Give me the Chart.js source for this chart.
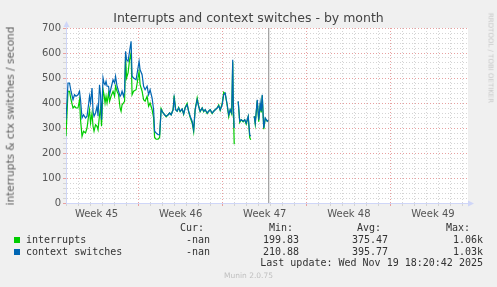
<!DOCTYPE html>
<html>
<head>
<meta charset="utf-8">
<script src="https://cdn.jsdelivr.net/npm/chart.js@4/dist/chart.umd.min.js"></script>
<style>
	body { margin: 0; background: #f0f0f0; }
	#wrap { position: relative; width: 497px; height: 287px; overflow: hidden; font-family: "DejaVu Sans", sans-serif; }
	#wrap canvas { position: absolute; left: 0; top: 0; }
	.txt { position: absolute; white-space: pre; line-height: 1; }
	.mono { font-family: "DejaVu Sans Mono", monospace; font-size: 10px; color: #333; }
	.r { text-align: right; }
	.sq { position: absolute; width: 6px; height: 6px; }
</style>
</head>
<body>
<div id="wrap">
	<canvas id="chart" width="497" height="287"></canvas>
	<div class="txt" id="title" style="left:0;width:497px;top:12px;text-align:center;font-size:12.5px;color:#444;">Interrupts and context switches - by month</div>
	<div class="txt" style="left:10px;top:116px;font-size:10.5px;color:#5a5a5a;transform:translate(-50%,-50%) rotate(-90deg);">interrupts &amp; ctx switches / second</div>
	<div class="txt" style="left:490px;top:58px;font-size:7px;color:#c8c8c8;transform:translate(-50%,-50%) rotate(90deg);">RRDTOOL / TOBI OETIKER</div>

	<div class="txt mono r" style="right:293px;top:223px;">Cur:</div>
	<div class="txt mono r" style="right:204px;top:223px;">Min:</div>
	<div class="txt mono r" style="right:116px;top:223px;">Avg:</div>
	<div class="txt mono r" style="right:27px;top:223px;">Max:</div>

	<div class="sq" style="left:14px;top:237px;background:#00cc00;"></div>
	<div class="txt mono" style="left:26px;top:235px;">interrupts</div>
	<div class="txt mono r" style="right:287px;top:235px;">-nan</div>
	<div class="txt mono r" style="right:198px;top:235px;">199.83</div>
	<div class="txt mono r" style="right:109px;top:235px;">375.47</div>
	<div class="txt mono r" style="right:14px;top:235px;">1.06k</div>

	<div class="sq" style="left:14px;top:249px;background:#0066b3;"></div>
	<div class="txt mono" style="left:26px;top:247px;">context switches</div>
	<div class="txt mono r" style="right:287px;top:247px;">-nan</div>
	<div class="txt mono r" style="right:198px;top:247px;">210.88</div>
	<div class="txt mono r" style="right:109px;top:247px;">395.77</div>
	<div class="txt mono r" style="right:14px;top:247px;">1.03k</div>

	<div class="txt mono r" style="right:14px;top:258px;">Last update: Wed Nov 19 18:20:42 2025</div>
	<div class="txt" style="left:0;width:497px;top:272px;text-align:center;font-size:7.5px;color:#c0c0c0;">Munin 2.0.75</div>
</div>
<script>
// time axis in hours from the left edge of the plot
const hours = [0, 4, 7, 10, 14, 17, 20, 24, 27, 29, 32, 35, 39, 42, 45, 47, 49, 52, 54, 56,
	59, 62, 64, 67, 69, 71, 74, 76, 78, 80, 82, 85, 87, 90, 94, 97, 99, 102, 105, 108,
	110, 112, 115, 117, 119, 121, 124, 127, 130, 132, 135, 140, 146, 148, 152, 155, 158, 162, 165, 168,
	172, 175, 177, 180, 184, 187, 190, 194, 197, 200, 204, 207, 210, 214, 216, 219, 222, 225, 228, 232,
	235, 238, 242, 245, 248, 252, 255, 258, 262, 265, 268, 272, 275, 278, 282, 285, 288, 292, 295, 298,
	302, 305, 308, 312, 315, 318, 322, 325, 328, 331, 333, 334, 336, 338, 344, 347, 350, 354, 357, 360,
	364, 367, 369, 372, 376, 378, 382, 385, 388, 390, 392, 395, 398, 402, 405];

const interrupts = [267, 447, 447, 413, 380, 387, 380, 380, 413, 333, 267, 287, 280, 300, 347, 373, 320, 360, 307, 287,
	313, 307, 293, 353, 380, 307, 453, 433, 400, 427, 400, 440, 407, 427, 447, 427, 467, 447, 433, 380,
	367, 393, 400, 407, 587, 500, 520, 573, 600, 433, 447, 453, 527, 473, 447, 413, 407, 427, 387, 400,
	373, 340, 262, 255, 255, 262, 378, 360, 353, 345, 353, 360, 353, 375, 430, 373, 367, 382, 365, 376,
	355, 382, 398, 365, 343, 320, 285, 375, 420, 387, 365, 380, 365, 373, 358, 367, 373, 358, 367, 373,
	380, 392, 371, 398, 443, 437, 390, 345, 373, 356, 565, 405, 235, null, 405, 322, 333, 325, 333, 315,
	345, 262, 253, null, 347, 315, 410, 325, 398, 362, 430, 295, 338, 327, 330];

const contextSwitches = [333, 480, 480, 447, 413, 433, 427, 433, 447, 413, 340, 353, 340, 347, 393, 427, 400, 460, 367, 347,
	360, 387, 347, 473, 433, 333, 500, 480, 473, 487, 467, 467, 433, 460, 493, 480, 507, 467, 447, 427,
	433, 447, 427, 447, 607, 573, 567, 607, 647, 507, 500, 493, 567, 533, 513, 467, 453, 467, 433, 453,
	420, 373, 287, 280, 273, 273, 373, 360, 353, 347, 353, 360, 353, 373, 420, 373, 367, 380, 367, 376,
	357, 380, 393, 367, 347, 327, 293, 373, 413, 387, 367, 380, 367, 373, 360, 367, 373, 360, 367, 373,
	380, 389, 373, 393, 433, 440, 393, 353, 373, 360, 573, 413, 300, null, 407, 327, 333, 327, 333, 320,
	347, 273, 267, null, 347, 320, 413, 333, 400, 367, 433, 300, 340, 327, 333];

const nowHour = 405;
const xMax = 803;
const firstDayLine = 1; // midnight gridlines, every 24 h
const weekStarts = [-23, 145, 313, 481, 649];
const weekLabels = ["Week 45", "Week 46", "Week 47", "Week 48", "Week 49"];

const kGridColor = "#d4d4d4";
const kMajorColor = "#e8a0a0";
const kAxisColor = "#cfd6f8";

function isWeekLine(v) {
	return weekStarts.includes(v);
}

const plotBackground = {
	id: "plotBackground",
	beforeDraw(chart) {
		const {ctx, chartArea: a} = chart;
		ctx.save();
		ctx.fillStyle = "#ffffff";
		ctx.fillRect(a.left, a.top, a.width, a.height);
		ctx.restore();
	}
};

const axisArrows = {
	id: "axisArrows",
	afterDraw(chart) {
		const {ctx, chartArea: a} = chart;
		const x0 = Math.round(a.left) + 0.5;
		const y0 = Math.round(a.bottom) + 0.5;
		ctx.save();
		ctx.strokeStyle = kAxisColor;
		ctx.fillStyle = kAxisColor;
		ctx.lineWidth = 1;
		ctx.beginPath();
		ctx.moveTo(x0, a.top);
		ctx.lineTo(x0, a.top - 4);
		ctx.moveTo(a.right, y0);
		ctx.lineTo(a.right + 3, y0);
		ctx.stroke();
		// up arrow
		ctx.beginPath();
		ctx.moveTo(x0, a.top - 7);
		ctx.lineTo(x0 - 3, a.top - 1);
		ctx.lineTo(x0 + 3, a.top - 1);
		ctx.closePath();
		ctx.fill();
		// right arrow
		ctx.beginPath();
		ctx.moveTo(a.right + 6, y0);
		ctx.lineTo(a.right, y0 - 3);
		ctx.lineTo(a.right, y0 + 3);
		ctx.closePath();
		ctx.fill();
		ctx.restore();
	}
};

function renderChart() {
	const context = document.getElementById("chart").getContext("2d");
	Chart.defaults.font.family = "'DejaVu Sans', sans-serif";
	Chart.defaults.font.size = 10;
	Chart.defaults.color = "#555555";

	const dayTicks = [];
	for (let v = firstDayLine; v < xMax; v += 24) {
		dayTicks.push(v);
	}
	const labelTicks = weekStarts.map((s) => s + 84);

	return new Chart(context, {
		type: "line",
		data: {
			datasets: [
				{
					label: "interrupts",
					data: hours.map((h, i) => ({x: h, y: interrupts[i]})),
					borderColor: "#00cc00",
					borderWidth: 1.2,
					order: 2 // drawn first, under the blue line
				},
				{
					label: "context switches",
					data: hours.map((h, i) => ({x: h, y: contextSwitches[i]})),
					borderColor: "#0066b3",
					borderWidth: 1.2,
					order: 1
				},
				{
					label: "now",
					data: [{x: nowHour, y: 0}, {x: nowHour, y: 700}],
					borderColor: "#8a8a8a",
					borderWidth: 1,
					order: 0
				}
			]
		},
		options: {
			responsive: false,
			animation: false,
			events: [],
			layout: {
				padding: {left: 36, right: 29, top: 28, bottom: 66}
			},
			elements: {
				point: {radius: 0},
				line: {tension: 0, fill: false}
			},
			plugins: {
				legend: {display: false},
				tooltip: {enabled: false}
			},
			scales: {
				x: {
					type: "linear",
					min: 0,
					max: xMax,
					weight: 0,
					afterBuildTicks: (scale) => {
						scale.ticks = dayTicks.map((v) => ({value: v}));
					},
					afterFit: (scale) => {
						scale.height = 4;
					},
					ticks: {display: false},
					grid: {
						color: (c) => c.tick && isWeekLine(c.tick.value) ? kMajorColor : kGridColor,
						tickLength: 3
					},
					border: {color: kAxisColor, dash: [1, 2]}
				},
				x2: {
					type: "linear",
					position: "bottom",
					min: 0,
					max: xMax,
					weight: 1,
					afterBuildTicks: (scale) => {
						scale.ticks = labelTicks.map((v) => ({value: v}));
					},
					afterFit: (scale) => {
						scale.height = 14;
					},
					ticks: {
						autoSkip: false,
						maxRotation: 0,
						padding: 1,
						callback: (v) => weekLabels[labelTicks.indexOf(v)] || ""
					},
					grid: {display: false, drawTicks: false},
					border: {display: false}
				},
				y: {
					min: 0,
					max: 700,
					afterFit: (scale) => {
						scale.width = 30;
					},
					ticks: {
						stepSize: 20,
						autoSkip: false,
						padding: 2,
						callback: (v) => v % 100 === 0 ? v : ""
					},
					grid: {
						color: (c) => c.tick && c.tick.value % 100 === 0 ? kMajorColor : kGridColor,
						tickLength: 3
					},
					border: {color: kAxisColor, dash: [1, 2]}
				}
			}
		},
		plugins: [plotBackground, axisArrows]
	});
}

renderChart();
</script>
</body>
</html>
